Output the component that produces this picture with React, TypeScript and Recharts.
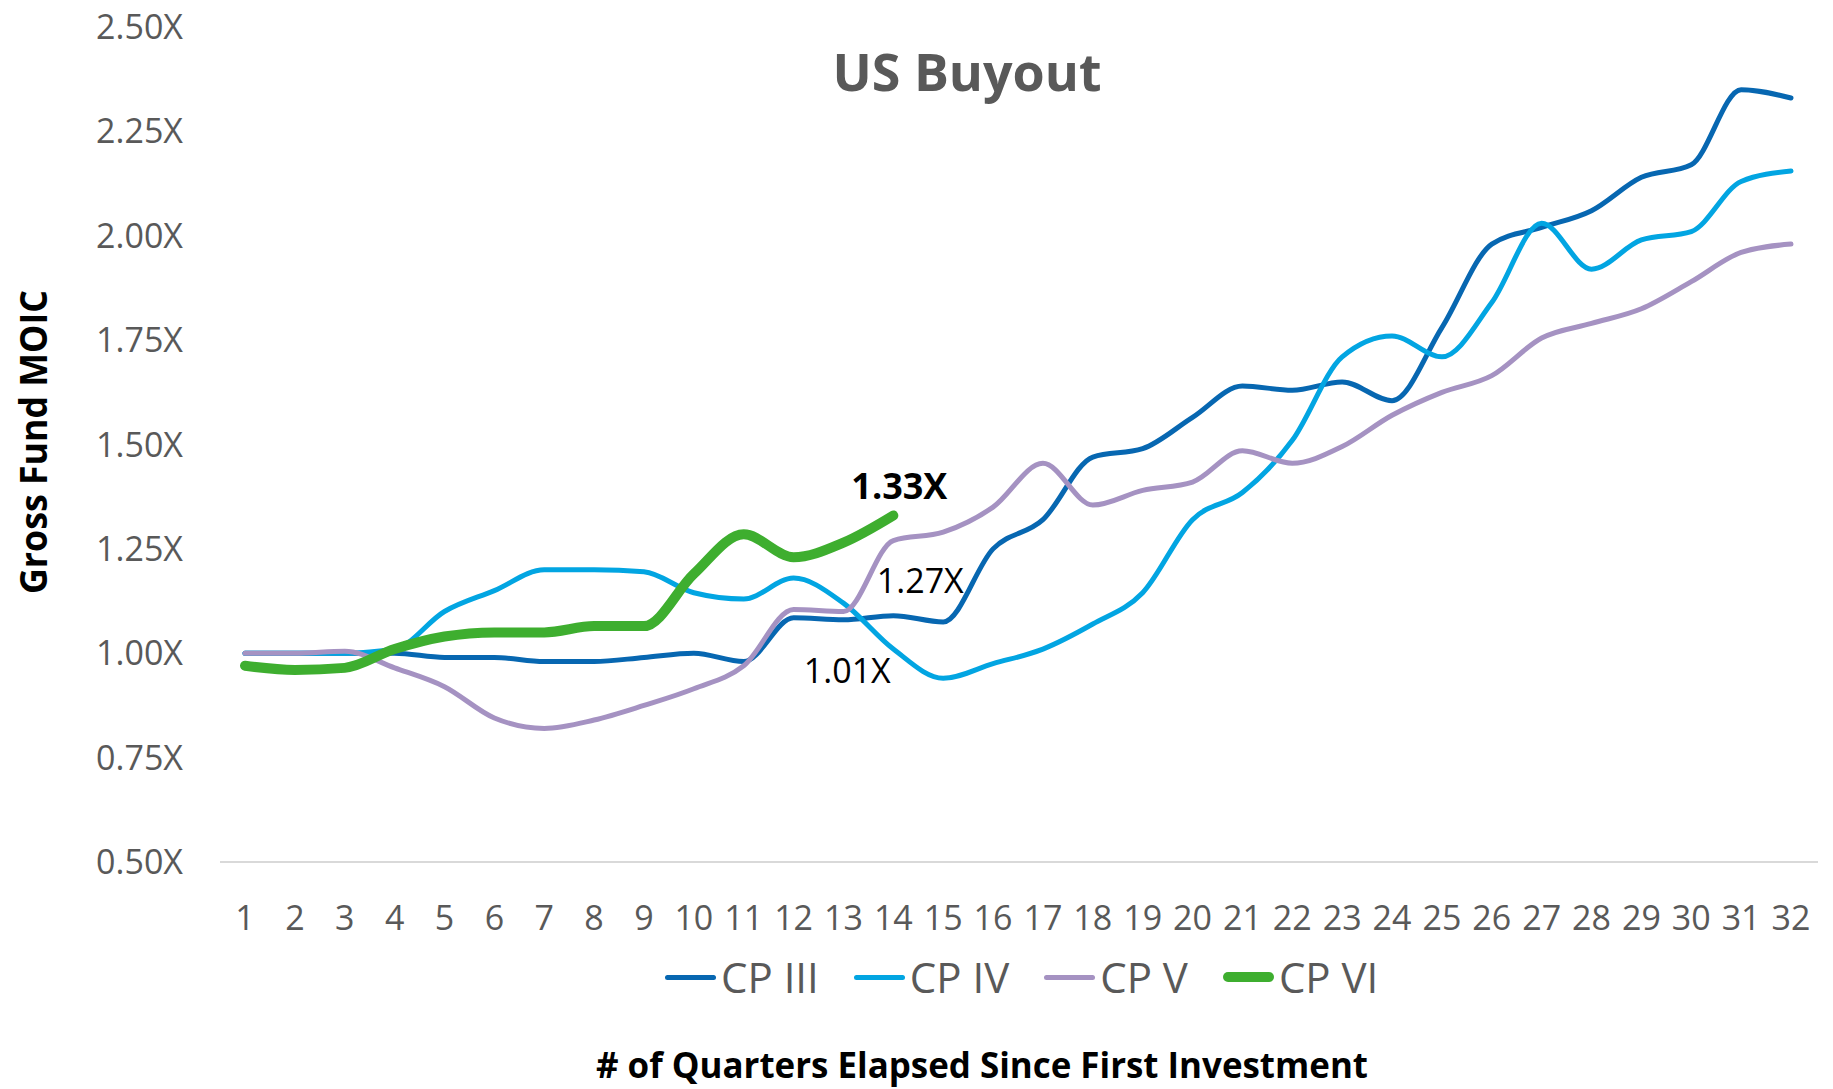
import { LineChart, Line, XAxis, YAxis, Legend, LabelList } from 'recharts';

// quarters elapsed since first investment
const quarters = [1, 2, 3, 4, 5, 6, 7, 8, 9, 10, 11, 12, 13, 14, 15, 16, 17, 18, 19, 20, 21, 22, 23, 24, 25, 26, 27, 28, 29, 30, 31, 32];

// gross fund MOIC per fund
const cpIII = [1.0, 1.0, 1.0, 1.0, 0.99, 0.99, 0.98, 0.98, 0.99, 1.0, 0.98, 1.085, 1.08, 1.09, 1.075, 1.25, 1.32, 1.47, 1.49, 1.565, 1.64, 1.63, 1.65, 1.605, 1.78, 1.98, 2.02, 2.06, 2.14, 2.17, 2.35, 2.33];
const cpIV = [1.0, 1.0, 1.0, 1.01, 1.1, 1.15, 1.2, 1.2, 1.195, 1.145, 1.13, 1.18, 1.12, 1.01, 0.94, 0.975, 1.01, 1.07, 1.145, 1.32, 1.385, 1.51, 1.71, 1.76, 1.71, 1.84, 2.03, 1.92, 1.99, 2.01, 2.13, 2.155];
const cpV = [1.0, 1.0, 1.005, 0.965, 0.92, 0.845, 0.82, 0.84, 0.875, 0.915, 0.97, 1.105, 1.1, 1.27, 1.29, 1.35, 1.455, 1.355, 1.39, 1.41, 1.485, 1.455, 1.495, 1.57, 1.625, 1.665, 1.755, 1.79, 1.825, 1.89, 1.96, 1.98];
const cpVI = [0.97, 0.96, 0.965, 1.01, 1.04, 1.05, 1.05, 1.065, 1.065, 1.19, 1.285, 1.23, 1.265, 1.33];

const yTicks = [0.5, 0.75, 1.0, 1.25, 1.5, 1.75, 2.0, 2.25, 2.5];

const series = [
  { key: 'cpIII', name: 'CP III', color: '#0767b1', width: 5 },
  { key: 'cpIV', name: 'CP IV', color: '#02a5e2', width: 5 },
  { key: 'cpV', name: 'CP V', color: '#a592c2', width: 5 },
  { key: 'cpVI', name: 'CP VI', color: '#3eae2f', width: 10 },
];

const data = quarters.map((q, i) => ({
  q,
  cpIII: cpIII[i],
  cpIV: cpIV[i],
  cpV: cpV[i],
  cpVI: i < cpVI.length ? cpVI[i] : null,
}));

const FONT = '"Open Sans", sans-serif';
const fmt = (v: number) => `${v.toFixed(2)}X`;

const XTick = ({ x, y, payload }: any) => (
  <text x={x} y={y + 68} textAnchor="middle" fontSize={34} fill="#595959" fontFamily={FONT}>
    {payload.value}
  </text>
);

const YTick = ({ x, y, payload }: any) => (
  <text x={x - 37} y={y} dy={12} textAnchor="end" fontSize={34} fill="#595959" fontFamily={FONT}>
    {fmt(payload.value)}
  </text>
);

const YTitle = () => (
  <text
    x={47}
    y={442}
    transform="rotate(-90 47 442)"
    textAnchor="middle"
    fontSize={38}
    fontWeight={700}
    fill="#000"
    fontFamily={FONT}
    textLength={304}
    lengthAdjust="spacingAndGlyphs"
  >
    Gross Fund MOIC
  </text>
);

const XTitle = () => (
  <text
    x={982}
    y={1078}
    textAnchor="middle"
    fontSize={36}
    fontWeight={700}
    fill="#000"
    fontFamily={FONT}
    textLength={772}
    lengthAdjust="spacingAndGlyphs"
  >
    # of Quarters Elapsed Since First Investment
  </text>
);

// value label next to one point of a series (quarter 14)
const pointLabel = (idx: number, dx: number, dy: number, bold: boolean) => (props: any) => {
  if (props.index !== idx || props.value == null) return null;
  return (
    <text
      x={props.x + dx}
      y={props.y + dy}
      textAnchor="middle"
      fontSize={bold ? 36 : 34}
      fontWeight={bold ? 700 : 400}
      fill="#000"
      fontFamily={FONT}
    >
      {fmt(props.value)}
    </text>
  );
};

const LegendContent = ({ payload }: any) => (
  <div style={{ display: 'flex', alignItems: 'center', fontFamily: FONT, fontSize: 42, color: '#595959', lineHeight: 1 }}>
    {(payload || []).map((p: any, i: number) => {
      const s = series.find((d) => d.key === p.dataKey) || series[0];
      return (
        <div key={s.key} style={{ display: 'flex', alignItems: 'center', marginRight: i < payload.length - 1 ? 35 : 0 }}>
          <div style={{ width: 51, height: s.width, background: s.color, borderRadius: s.width / 2 }} />
          <span style={{ marginLeft: 5 }}>{p.value}</span>
        </div>
      );
    })}
  </div>
);

const App = () => {
  return (
    <div style={{ position: 'absolute', left: 0, top: 0, width: 1833, height: 1089, background: '#fff' }}>
      <LineChart width={1833} height={1089} data={data} margin={{ top: 27, right: 15, left: 0, bottom: 167 }}>
        <XAxis
          dataKey="q"
          height={60}
          tick={<XTick />}
          tickLine={false}
          tickSize={0}
          tickMargin={0}
          interval={0}
          padding={{ left: 25, right: 27 }}
          axisLine={{ stroke: '#d9d9d9', strokeWidth: 2 }}
          label={<XTitle />}
        />
        <YAxis
          width={220}
          domain={[0.5, 2.5]}
          ticks={yTicks}
          interval={0}
          tick={<YTick />}
          tickLine={false}
          tickSize={0}
          tickMargin={0}
          axisLine={false}
          label={<YTitle />}
        />
        <Legend
          verticalAlign="middle"
          layout="horizontal"
          content={<LegendContent />}
          wrapperStyle={{ top: 956, left: 665, width: 'auto' }}
        />
        {series.map((s) => (
          <Line
            key={s.key}
            type="monotone"
            dataKey={s.key}
            name={s.name}
            stroke={s.color}
            strokeWidth={s.width}
            strokeLinecap="round"
            dot={false}
            activeDot={false}
            isAnimationActive={false}
          >
            {s.key === 'cpIV' && <LabelList dataKey="cpIV" content={pointLabel(13, -46, 34, false)} />}
            {s.key === 'cpV' && <LabelList dataKey="cpV" content={pointLabel(13, 27, 52, false)} />}
            {s.key === 'cpVI' && <LabelList dataKey="cpVI" content={pointLabel(13, 6, -16, true)} />}
          </Line>
        ))}
      </LineChart>
      <svg width={1833} height={120} style={{ position: 'absolute', left: 0, top: 0, pointerEvents: 'none' }}>
        <text x={967} y={91} textAnchor="middle" fontSize={52} fontWeight={700} fill="#595959" fontFamily={FONT}>
          US Buyout
        </text>
      </svg>
    </div>
  );
};

export default App;
